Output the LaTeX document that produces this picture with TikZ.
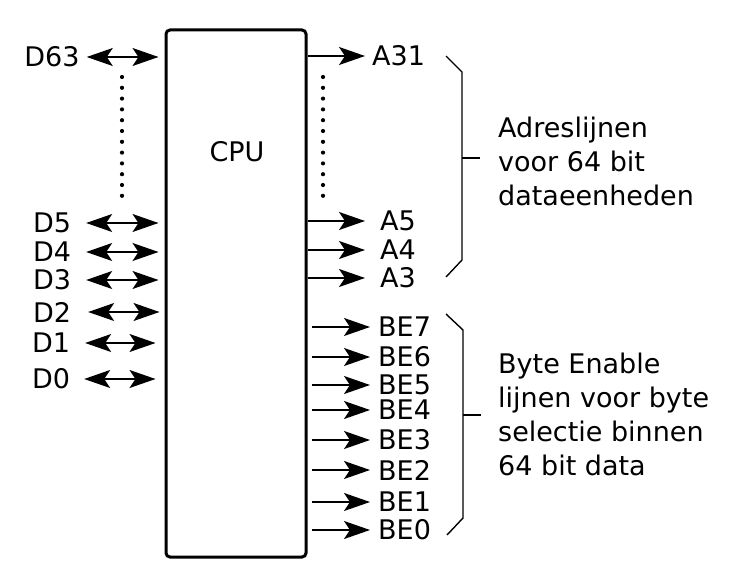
\documentclass[tikz,border=0pt]{standalone}
\usepackage{fontspec}
\setmainfont{DejaVu Sans}
\usetikzlibrary{arrows.meta}
\begin{document}
\begin{tikzpicture}[x=1pt,y=-1pt,
  font=\fontsize{27}{34}\selectfont,
  lbl/.style={inner sep=0pt},
  bidir/.style={line width=1.3pt,{Stealth[length=26pt,width=18pt,inset=6pt]}-{Stealth[length=26pt,width=18pt,inset=6pt]}},
  outarr/.style={line width=1.3pt,-{Stealth[length=26pt,width=18pt,inset=6pt]}},
  dotline/.style={line width=4.2pt,line cap=round,dash pattern=on 0pt off 10.8pt},
  brace/.style={line width=1.4pt},
  block/.style={inner sep=0pt,align=left,anchor=west}]
\useasboundingbox (0,0) rectangle (741,583);
% CPU box
\node[draw,line width=3pt,rounded corners=4pt,minimum width=140pt,minimum height=527pt,inner sep=0pt] (cpu) at (236,293.5) {};
\node[lbl] (cputxt) at (237,152) {CPU};
% left labels
\node[lbl] (d63) at (52,57) {D63};
\node[lbl] (d5) at (52,223) {D5};
\node[lbl] (d4) at (52,252) {D4};
\node[lbl] (d3) at (52,280) {D3};
\node[lbl] (d2) at (52,312) {D2};
\node[lbl] (d1) at (51,343) {D1};
\node[lbl] (d0) at (51,379) {D0};
\foreach \n/\a/\b in {d63/7/6, d5/15/6, d4/15/6, d3/15/6, d2/17/5, d1/15/9, d0/14/9}
  \draw[bidir,shorten <=\a pt,shorten >=\b pt] (\n.east) -- (cpu.west |- \n.east);
\coordinate (ldtop) at (122,77);
\coordinate (ldbot) at (122,197);
\draw[dotline] (ldtop) -- (ldbot);
% address labels
\node[lbl,anchor=west] (a31) at (372,56) {A31};
\node[lbl,anchor=west] (a5) at (380,221) {A5};
\node[lbl,anchor=west] (a4) at (380,250) {A4};
\node[lbl,anchor=west] (a3) at (380,278) {A3};
\draw[outarr,shorten >=7pt] (cpu.east |- a31.west) -- (a31.west);
\foreach \n in {a5,a4,a3}
  \draw[outarr,shorten >=15pt] (cpu.east |- \n.west) -- (\n.west);
\coordinate (rdtop) at (323,77);
\coordinate (rdbot) at (323,197);
\draw[dotline] (rdtop) -- (rdbot);
% byte enable labels
\foreach \n/\y in {7/327,6/357,5/385,4/410,3/440,2/470,1/502,0/530}{
  \node[lbl,anchor=west] (be\n) at (378,\y) {BE\n};
  \draw[outarr,shorten <=4pt,shorten >=8pt] (cpu.east |- be\n.west) -- (be\n.west);
}
% brackets
\coordinate (b1a) at (446,56);
\coordinate (b1b) at (462,72);
\coordinate (b1c) at (462,260);
\coordinate (b1d) at (446,277);
\coordinate (b1m) at (462,158);
\coordinate (b1t) at (480,158);
\draw[brace] (b1a) -- (b1b) -- (b1c) -- (b1d);
\draw[brace] (b1m) -- (b1t);
\coordinate (b2a) at (446,314);
\coordinate (b2b) at (463,330);
\coordinate (b2c) at (463,518);
\coordinate (b2d) at (447,535);
\coordinate (b2m) at (463,415);
\coordinate (b2t) at (481,415);
\draw[brace] (b2a) -- (b2b) -- (b2c) -- (b2d);
\draw[brace] (b2m) -- (b2t);
% explanation texts
\node[block] (adr) at (498,161) {Adreslijnen\\voor 64 bit\\dataeenheden};
\node[block] (bet) at (498,414) {Byte Enable\\lijnen voor byte\\selectie binnen\\64 bit data};
\end{tikzpicture}
\end{document}
